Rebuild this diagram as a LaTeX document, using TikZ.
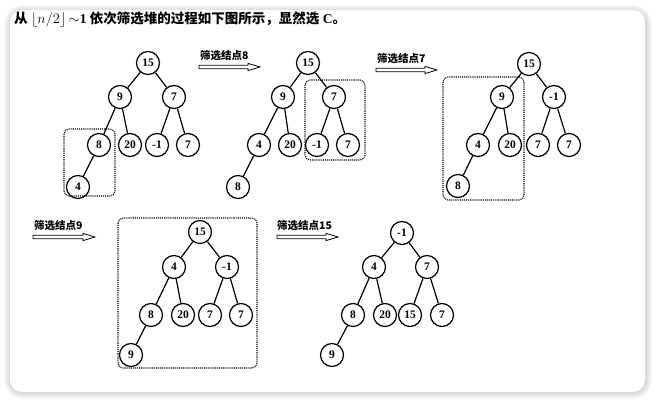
\documentclass[tikz,border=0pt]{standalone}
\usepackage{fontspec}
\setmainfont{Liberation Serif}
\newfontfamily\cjk{Noto Sans CJK SC}
\begin{document}
\begin{tikzpicture}[x=1pt,y=-1pt,
  nd/.style={circle,draw,line width=1.25pt,minimum size=23pt,inner sep=0pt,font=\fontsize{11.5}{11.5}\selectfont\bfseries},
  ed/.style={line width=1.2pt},
  dbox/.style={densely dotted,line width=1.1pt,rounded corners=5pt},
  lbl/.style={font=\cjk\fontsize{10.5}{11}\selectfont\bfseries,inner sep=0pt,anchor=south west},
  harr/.style={line width=0.8pt,fill=white,line join=miter}]
\newcommand{\hollowarrow}[3]{% x1, x2, y
  \draw[harr] (#1,#3-1.8) -- (#2-12,#3-1.8) -- (#2-12,#3-3.6) -- (#2,#3) -- (#2-12,#3+3.6) -- (#2-12,#3+1.8) -- (#1,#3+1.8) -- cycle;}
\useasboundingbox (0,0) rectangle (655,402);
\fill[white] (0,0) rectangle (655,402);
% shadow
\foreach \i in {1,...,7}{
  \fill[black,opacity=0.022,rounded corners=12pt+\i pt] (10-\i+1,10-\i+2) rectangle (645+\i,392+\i);
}
\fill[white,rounded corners=12pt] (10,10) rectangle (645,392);

% header
\node[anchor=west,inner sep=0pt,font=\fontsize{13.5}{13.5}\selectfont\bfseries] (hdr) at (14,19)
  {{\cjk 从} $\lfloor n/2\rfloor$\,$\sim$1 {\cjk 依次筛选堆的过程如下图所示，显然选} C{\cjk 。}};

% tree 1
\node[nd] (a15) at (148,63) {15};
\node[nd] (a9) at (120,97) {9};
\node[nd] (a7) at (174,97) {7};
\node[nd] (a8) at (99,145) {8};
\node[nd] (a20) at (130,145) {20};
\node[nd] (am1) at (157,145) {-1};
\node[nd] (a7b) at (188,145) {7};
\node[nd] (a4) at (78,187) {4};
\draw[ed] (a15)--(a9) (a15)--(a7) (a9)--(a8) (a9)--(a20) (a7)--(am1) (a7)--(a7b) (a8)--(a4);
\draw[dbox] (64,129) rectangle (115,196);

% arrow 1
\node[lbl] (l1) at (200,61) {筛选结点8};
\hollowarrow{199}{260}{67}

% tree 2
\node[nd] (b15) at (308,63) {15};
\node[nd] (b9) at (283,97) {9};
\node[nd] (b7) at (334,97) {7};
\node[nd] (b4) at (259,145) {4};
\node[nd] (b20) at (290,145) {20};
\node[nd] (bm1) at (317,145) {-1};
\node[nd] (b7b) at (348,145) {7};
\node[nd] (b8) at (238,187) {8};
\draw[ed] (b15)--(b9) (b15)--(b7) (b9)--(b4) (b9)--(b20) (b7)--(bm1) (b7)--(b7b) (b4)--(b8);
\draw[dbox] (305,80) rectangle (365,160);

% arrow 2
\node[lbl] (l2) at (377,64) {筛选结点7};
\hollowarrow{376}{437}{70}

% tree 3
\node[nd] (c15) at (529,64) {15};
\node[nd] (c9) at (502,97) {9};
\node[nd] (cm1) at (554,97) {-1};
\node[nd] (c4) at (478,145) {4};
\node[nd] (c20) at (510,145) {20};
\node[nd] (c7) at (538,145) {7};
\node[nd] (c7b) at (569,145) {7};
\node[nd] (c8) at (458,186) {8};
\draw[ed] (c15)--(c9) (c15)--(cm1) (c9)--(c4) (c9)--(c20) (cm1)--(c7) (cm1)--(c7b) (c4)--(c8);
\draw[dbox] (443,77) rectangle (524,200);

% arrow 3
\node[lbl] (l3) at (34,231) {筛选结点9};
\hollowarrow{33}{95}{237}

% tree 4
\node[nd] (d15) at (200,232) {15};
\node[nd] (d4) at (174,267) {4};
\node[nd] (dm1) at (227,267) {-1};
\node[nd] (d8) at (151,315) {8};
\node[nd] (d20) at (183,315) {20};
\node[nd] (d7) at (210,315) {7};
\node[nd] (d7b) at (241,315) {7};
\node[nd] (d9) at (131,355) {9};
\draw[ed] (d15)--(d4) (d15)--(dm1) (d4)--(d8) (d4)--(d20) (dm1)--(d7) (dm1)--(d7b) (d8)--(d9);
\draw[dbox] (118,218) rectangle (257,368);

% arrow 4
\node[lbl] (l4) at (277,231) {筛选结点15};
\hollowarrow{277}{338}{237}

% tree 5
\node[nd] (e1) at (402,233) {-1};
\node[nd] (e4) at (374,267) {4};
\node[nd] (e7) at (427,267) {7};
\node[nd] (e8) at (353,315) {8};
\node[nd] (e20) at (385,315) {20};
\node[nd] (e15) at (410,315) {15};
\node[nd] (e7b) at (442,315) {7};
\node[nd] (e9) at (332,355) {9};
\draw[ed] (e1)--(e4) (e1)--(e7) (e4)--(e8) (e4)--(e20) (e7)--(e15) (e7)--(e7b) (e8)--(e9);
\end{tikzpicture}
\end{document}
